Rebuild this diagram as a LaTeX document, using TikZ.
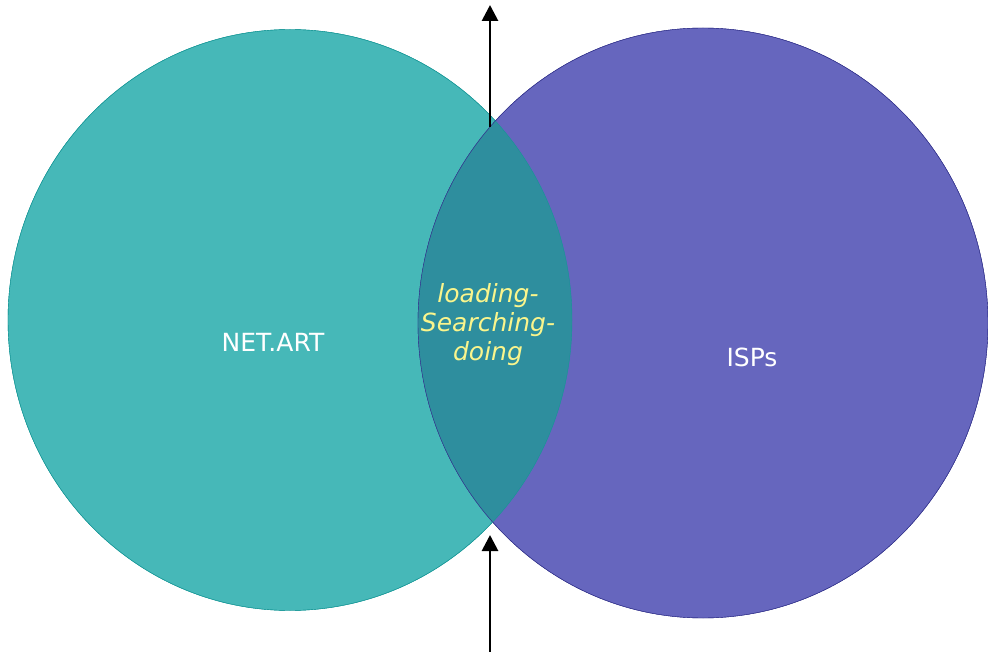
\documentclass[tikz,border=0pt]{standalone}
\usepackage{fontspec}
\setmainfont{DejaVu Sans}
\usepackage{tikz}
\usetikzlibrary{shapes.geometric,arrows.meta}
\definecolor{netteal}{RGB}{70,184,184}
\definecolor{tealedge}{RGB}{20,150,150}
\definecolor{ispblue}{RGB}{102,102,190}
\definecolor{blueedge}{RGB}{50,50,140}
\definecolor{overlap}{RGB}{46,142,158}
\definecolor{midtext}{RGB}{250,245,140}
\tikzstyle{setnet} = [ellipse, draw=tealedge, fill=netteal, minimum width=564pt, minimum height=581pt, inner sep=0pt]
\tikzstyle{setisp} = [ellipse, draw=blueedge, fill=ispblue, minimum width=570pt, minimum height=590pt, inner sep=0pt]
\tikzstyle{setlabel} = [text=white, font=\fontsize{25}{29}\selectfont]
\tikzstyle{midlabel} = [text=midtext, align=center, font=\fontsize{25}{29}\selectfont\itshape]
\tikzstyle{arrow} = [line width=2.8pt, -{Triangle[width=16pt,length=16pt]}]

\begin{document}
\begin{tikzpicture}[x=1pt, y=-1pt] % one unit = one pixel of the reference

\useasboundingbox (0,0) rectangle (988,652);

% The two sets
\node(netart) [setnet] at (290,320) {};
\node(isps)   [setisp] at (703,323) {};

% Shade the common part
\begin{scope}
  \clip (290,320) ellipse [x radius=282pt, y radius=290.5pt];
  \fill [overlap] (703,323) ellipse [x radius=285pt, y radius=295pt];
\end{scope}
\draw [tealedge] (290,320) ellipse [x radius=282pt, y radius=290.5pt];
\draw [blueedge] (703,323) ellipse [x radius=285pt, y radius=295pt];

% Labels
\node(netlabel) [setlabel] at (273,342) {NET.ART};
\node(isplabel) [setlabel] at (752,357) {ISPs};
\node(common)   [midlabel] at (488,325) {loading-\\Searching-\\doing};

% Axis arrows
\coordinate (bottom) at (490,652);
\coordinate (lowtip) at (490,535);
\coordinate (upper)  at (490,127);
\coordinate (top)    at (490,5);
\draw [arrow] (bottom) -- (lowtip);
\draw [arrow] (upper)  -- (top);

\end{tikzpicture}
\end{document}
